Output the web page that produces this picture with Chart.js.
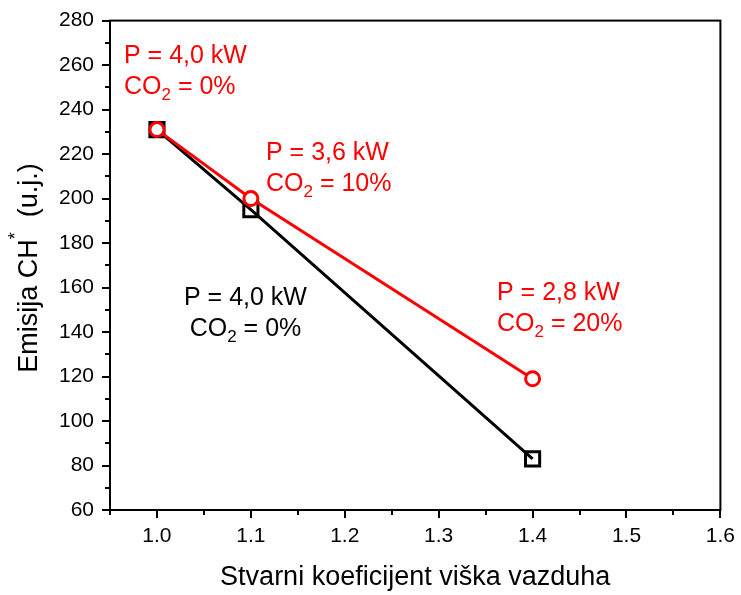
<!DOCTYPE html>
<html lang="sr">
<head>
<meta charset="UTF-8">
<title>Emisija CH*</title>
<script src="https://cdn.jsdelivr.net/npm/chart.js"></script>
<style>
  html, body { margin: 0; padding: 0; background: #fff; }
  #wrap { width: 741px; height: 595px; }
</style>
</head>
<body>
<div id="wrap"><canvas id="myChart01" width="741" height="595"></canvas></div>
<script>
// podaci sa grafika
var lambdaX = [1.0, 1.1, 1.4];
var serijaCrna = [231, 195, 83];   // P = 4,0 kW, CO2 = 0%
var serijaCrvena = [231, 200, 119]; // P/CO2 promenljivo
var xTicks = [1.0, 1.1, 1.2, 1.3, 1.4, 1.5, 1.6];
var yTicks = [60, 80, 100, 120, 140, 160, 180, 200, 220, 240, 260, 280];
var xTitle = 'Stvarni koeficijent viška vazduha';

var FONT = 'Arial, "Liberation Sans", sans-serif';

function toPoints(xs, ys) {
  return xs.map(function (x, i) { return { x: x, y: ys[i] }; });
}

// ispis teksta sa indeksom (CO2) ili eksponentom (CH*)
function drawParts(ctx, parts, x, y, size) {
  var cx = x;
  parts.forEach(function (p) {
    var s = p.sub || p.sup ? Math.round(size * 0.66) : size;
    ctx.font = s + 'px ' + FONT;
    var dy = p.sub ? size * 0.33 : (p.sup ? -size * 0.5 : 0);
    ctx.fillText(p.t, cx, y + dy);
    cx += ctx.measureText(p.t).width;
  });
  return cx - x;
}
function widthParts(ctx, parts, size) {
  var w = 0;
  parts.forEach(function (p) {
    var s = p.sub || p.sup ? Math.round(size * 0.66) : size;
    ctx.font = s + 'px ' + FONT;
    w += ctx.measureText(p.t).width;
  });
  return w;
}

var labele = [
  { x: 124, y: 56, color: '#ff0000', lines: [[{ t: 'P = 4,0 kW' }], [{ t: 'CO' }, { t: '2', sub: true }, { t: ' = 0%' }]] },
  { x: 266, y: 153, color: '#ff0000', lines: [[{ t: 'P = 3,6 kW' }], [{ t: 'CO' }, { t: '2', sub: true }, { t: ' = 10%' }]] },
  { x: 184, y: 298, color: '#000000', center: true, lines: [[{ t: 'P = 4,0 kW' }], [{ t: 'CO' }, { t: '2', sub: true }, { t: ' = 0%' }]] },
  { x: 497, y: 293, color: '#ff0000', lines: [[{ t: 'P = 2,8 kW' }], [{ t: 'CO' }, { t: '2', sub: true }, { t: ' = 20%' }]] }
];

var okvirPlugin = {
  id: 'okvir',
  afterDraw: function (chart) {
    var ctx = chart.ctx;
    var a = chart.chartArea;
    var xs = chart.scales.x, ys = chart.scales.y;
    ctx.save();
    ctx.strokeStyle = '#000';
    ctx.lineWidth = 2;
    ctx.strokeRect(a.left, a.top, a.right - a.left, a.bottom - a.top);
    // sporedni podeoci
    ctx.beginPath();
    for (var v = 70; v < 280; v += 20) {
      var py = Math.round(ys.getPixelForValue(v));
      ctx.moveTo(a.left, py); ctx.lineTo(a.left - 5, py);
    }
    for (var k = 0; k < 7; k++) {
      var px = Math.round(xs.getPixelForValue(0.95 + k * 0.1));
      ctx.moveTo(px, a.bottom); ctx.lineTo(px, a.bottom + 5);
    }
    ctx.stroke();

    // oznake na grafiku
    ctx.textBaseline = 'middle';
    ctx.textAlign = 'left';
    labele.forEach(function (L) {
      ctx.fillStyle = L.color;
      var w0 = widthParts(ctx, L.lines[0], 25);
      L.lines.forEach(function (ln, i) {
        var x = L.x;
        if (L.center) x = L.x + (w0 - widthParts(ctx, ln, 25)) / 2;
        drawParts(ctx, ln, x, L.y + i * 31, 25);
      });
    });

    // naslovi osa
    ctx.fillStyle = '#000';
    ctx.font = '27px ' + FONT;
    ctx.textAlign = 'center';
    ctx.fillText(xTitle, (a.left + a.right) / 2, 578);
    var yParts = [{ t: 'Emisija CH' }, { t: '*', sup: true }, { t: '  (u.j.)' }];
    ctx.translate(30, 268);
    ctx.rotate(-Math.PI / 2);
    ctx.textAlign = 'left';
    var w = widthParts(ctx, yParts, 27);
    drawParts(ctx, yParts, -w / 2, 0, 27);
    ctx.restore();
  }
};

var ctx01 = document.getElementById('myChart01');
var chart01 = new Chart(ctx01, {
  type: 'scatter',
  data: {
    datasets: [{
      label: 'P = 4,0 kW, CO2 = 0%',
      data: toPoints(lambdaX, serijaCrna),
      showLine: true,
      borderColor: '#000',
      borderWidth: 3,
      pointStyle: 'rect',
      pointRadius: 10,
      pointBorderWidth: 3,
      pointBorderColor: '#000',
      pointBackgroundColor: 'rgba(255,255,255,0)',
      order: 2
    }, {
      label: 'promenljivo',
      data: toPoints(lambdaX, serijaCrvena),
      showLine: true,
      borderColor: '#ff0000',
      borderWidth: 3,
      pointStyle: 'circle',
      pointRadius: 7,
      pointBorderWidth: 3,
      pointBorderColor: '#ff0000',
      pointBackgroundColor: '#fff',
      order: 1
    }]
  },
  options: {
    responsive: false,
    animation: false,
    layout: { padding: { top: 17, right: 17, left: 0, bottom: 0 } },
    plugins: { legend: { display: false }, tooltip: { enabled: false } },
    scales: {
      x: {
        type: 'linear',
        min: 0.95,
        max: 1.6,
        afterBuildTicks: function (s) { s.ticks = xTicks.map(function (v) { return { value: v }; }); },
        afterFit: function (s) { s.height = 85; },
        border: { display: true, color: '#000', width: 2 },
        grid: { drawOnChartArea: false, drawTicks: true, tickLength: 8, color: '#000', lineWidth: 2 },
        ticks: { color: '#000', padding: 6, font: { size: 21, family: FONT }, callback: function (v) { return v.toFixed(1); } }
      },
      y: {
        type: 'linear',
        min: 60,
        max: 280,
        afterBuildTicks: function (s) { s.ticks = yTicks.map(function (v) { return { value: v }; }); },
        afterFit: function (s) { s.width = 110; },
        border: { display: true, color: '#000', width: 2 },
        grid: { drawOnChartArea: false, drawTicks: true, tickLength: 8, color: '#000', lineWidth: 2 },
        ticks: { color: '#000', padding: 8, font: { size: 21, family: FONT } }
      }
    }
  },
  plugins: [okvirPlugin]
});
</script>
</body>
</html>
